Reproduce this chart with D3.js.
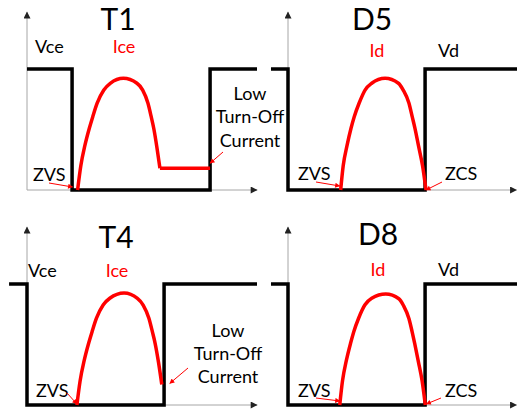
<!DOCTYPE html>
<html>
<head>
<meta charset="utf-8">
<script src="https://cdn.jsdelivr.net/npm/d3@7"></script>
<style>
  body { margin: 0; background: #fff; }
  text { font-family: Lato, "Open Sans", sans-serif; }
</style>
</head>
<body>
<svg id="chart" width="517" height="411"></svg>
<script>
// switching waveforms, time in units (0..10), level normalised to 1
const panelNames = ["T1", "D5", "T4", "D8"];
const voltageLabels = ["Vce", "Vd", "Vce", "Vd"];
const currentLabels = ["Ice", "Id", "Ice", "Id"];

const vT1 = [[0, 1], [1.96, 1], [1.96, 0], [7.96, 0], [7.96, 1], [10, 1]];
const vD5 = [[-0.74, 1], [0, 1], [0, 0], [5.96, 0], [5.96, 1], [10, 1]];
const vT4 = [[-0.78, 1], [0, 1], [0, 0], [5.96, 0], [5.96, 1], [10, 1]];
const vD8 = [[-0.74, 1], [0, 1], [0, 0], [5.96, 0], [5.96, 1], [10, 1]];

const iT1 = [[2.2, 0], [2.34, 0.2], [2.52, 0.37], [2.71, 0.51], [2.86, 0.606], [3.05, 0.717],
             [3.34, 0.826], [3.62, 0.882], [4.19, 0.923], [4.78, 0.882], [5.03, 0.826],
             [5.26, 0.717], [5.4, 0.606], [5.51, 0.51], [5.65, 0.35], [5.78, 0.18]];
const iT1tail = [[5.78, 0.18], [7.96, 0.18]];
const iD5 = [[2.29, 0], [2.4, 0.2], [2.57, 0.37], [2.74, 0.51], [2.88, 0.606], [3.09, 0.717],
             [3.35, 0.826], [3.64, 0.882], [4.22, 0.923], [4.8, 0.882], [5.01, 0.826],
             [5.26, 0.717], [5.4, 0.606], [5.52, 0.51], [5.68, 0.36], [5.85, 0.2], [6.0, 0]];
const iT4 = [[2.17, 0], [2.31, 0.2], [2.49, 0.37], [2.68, 0.51], [2.83, 0.606], [3.02, 0.717],
             [3.31, 0.826], [3.6, 0.882], [4.22, 0.925], [4.8, 0.882], [5.05, 0.826],
             [5.3, 0.717], [5.45, 0.606], [5.57, 0.51], [5.72, 0.35], [5.86, 0.17]];
const iD8 = [[2.25, 0], [2.37, 0.2], [2.54, 0.37], [2.72, 0.51], [2.86, 0.606], [3.07, 0.717],
             [3.34, 0.826], [3.64, 0.882], [4.25, 0.917], [4.82, 0.878], [5.02, 0.822],
             [5.26, 0.713], [5.4, 0.603], [5.51, 0.507], [5.67, 0.357], [5.83, 0.2], [5.97, 0]];

const voltages = [vT1, vD5, vT4, vD8];
const currents = [iT1, iD5, iT4, iD8];
const tails = [iT1tail, null, null, null];

// layout: axis origin of each panel and label placement (px relative to origin)
const origins = [[27, 190], [288, 190], [27, 405], [288, 405]];
const W = 230, H = 121;

const layout = [
  { title: [91, -160], vLab: [8, -137], iLab: [97, -137],
    zvs: [6, -9], zvsArrow: { from: [22, -7], pt: "start", off: [-5, -3] },
    low: [223, [-90, -67, -43]], lowArrow: { from: [196, -38], pt: "tail", off: [0, -5] } },
  { title: [84, -160], vLab: [150, -133], iLab: [89, -133],
    zvs: [10, -10], zvsArrow: { from: [28, -8], pt: "start", off: [-1, -4] },
    zcs: [157, -10], zcsArrow: { from: [154, -8], pt: "end", off: [0, 0] } },
  { title: [89, -157], vLab: [1, -128], iLab: [90, -128],
    zvs: [9, -8], zvsArrow: { from: [40, -12], pt: "start", off: [0, -1] },
    low: [201, [-68, -45, -22]], lowArrow: { from: [161, -37], pt: "end", off: [8, -1] } },
  { title: [90, -160], vLab: [150, -129], iLab: [90, -129],
    zvs: [10, -8], zvsArrow: { from: [28, -7], pt: "start", off: [0, -4] },
    zcs: [157, -8], zcsArrow: { from: [153, -7], pt: "end", off: [1, -1] } }
];

const svg = d3.select("#chart");
const defs = svg.append("defs");
defs.append("marker")
    .attr("id", "axArrow")
    .attr("viewBox", "0 0 10 10").attr("refX", 9).attr("refY", 5)
    .attr("markerUnits", "userSpaceOnUse")
    .attr("markerWidth", 8).attr("markerHeight", 7)
    .attr("orient", "auto")
  .append("path").attr("d", "M0,0L10,5L0,10Z").attr("fill", "#222");
defs.append("marker")
    .attr("id", "redArrow")
    .attr("viewBox", "0 0 10 10").attr("refX", 9).attr("refY", 5)
    .attr("markerUnits", "userSpaceOnUse")
    .attr("markerWidth", 7).attr("markerHeight", 5)
    .attr("orient", "auto")
  .append("path").attr("d", "M0,0L10,5L0,10Z").attr("fill", "#ff0000");

panelNames.forEach((name, p) => {
  const [x0, y0] = origins[p];
  const L = layout[p];
  const x = d3.scaleLinear().domain([0, 10]).range([x0, x0 + W]);
  const y = d3.scaleLinear().domain([0, 1]).range([y0, y0 - H]);
  const g = svg.append("g");

  // axes
  g.append("line")
      .attr("x1", x(0)).attr("y1", y(0)).attr("x2", x(0)).attr("y2", y(1.47))
      .attr("stroke", "#a6a6a6").attr("stroke-width", 1)
      .attr("marker-end", "url(#axArrow)");
  g.append("line")
      .attr("x1", x(0)).attr("y1", y(0)).attr("x2", x(p % 2 ? 9.93 : 10)).attr("y2", y(0))
      .attr("stroke", "#a6a6a6").attr("stroke-width", 1)
      .attr("marker-end", "url(#axArrow)");

  const stepLine = d3.line().x(d => x(d[0])).y(d => y(d[1]));
  const curve = d3.line().x(d => x(d[0])).y(d => y(d[1])).curve(d3.curveMonotoneX);

  g.append("path").attr("d", stepLine(voltages[p]))
      .attr("fill", "none").attr("stroke", "#000").attr("stroke-width", 3.5)
      .attr("stroke-linejoin", "miter");
  g.append("path").attr("d", curve(currents[p]))
      .attr("fill", "none").attr("stroke", "#ff0000").attr("stroke-width", 3.5);
  if (tails[p]) {
    g.append("path").attr("d", stepLine(tails[p]))
        .attr("fill", "none").attr("stroke", "#ff0000").attr("stroke-width", 3.5);
  }

  // labels
  g.append("text").attr("x", x0 + L.title[0]).attr("y", y0 + L.title[1])
      .attr("text-anchor", "middle").attr("font-size", 30).text(name);
  g.append("text").attr("x", x0 + L.vLab[0]).attr("y", y0 + L.vLab[1])
      .attr("font-size", 18).text(voltageLabels[p]);
  g.append("text").attr("x", x0 + L.iLab[0]).attr("y", y0 + L.iLab[1])
      .attr("text-anchor", "middle").attr("font-size", 18).attr("fill", "#ff0000")
      .text(currentLabels[p]);

  const pts = {
    start: currents[p][0],
    end: currents[p][currents[p].length - 1],
    tail: tails[p] ? tails[p][tails[p].length - 1] : null
  };
  const arrow = a => {
    const d = pts[a.pt];
    g.append("line")
        .attr("x1", x0 + a.from[0]).attr("y1", y0 + a.from[1])
        .attr("x2", x(d[0]) + a.off[0]).attr("y2", y(d[1]) + a.off[1])
        .attr("stroke", "#ff0000").attr("stroke-width", 1)
        .attr("marker-end", "url(#redArrow)");
  };

  g.append("text").attr("x", x0 + L.zvs[0]).attr("y", y0 + L.zvs[1])
      .attr("font-size", 18).text("ZVS");
  arrow(L.zvsArrow);
  if (L.zcs) {
    g.append("text").attr("x", x0 + L.zcs[0]).attr("y", y0 + L.zcs[1])
        .attr("font-size", 18).text("ZCS");
    arrow(L.zcsArrow);
  }
  if (L.low) {
    ["Low", "Turn-Off", "Current"].forEach((t, k) => {
      g.append("text").attr("x", x0 + L.low[0]).attr("y", y0 + L.low[1][k])
          .attr("text-anchor", "middle").attr("font-size", 18).text(t);
    });
    arrow(L.lowArrow);
  }
});
</script>
</body>
</html>
